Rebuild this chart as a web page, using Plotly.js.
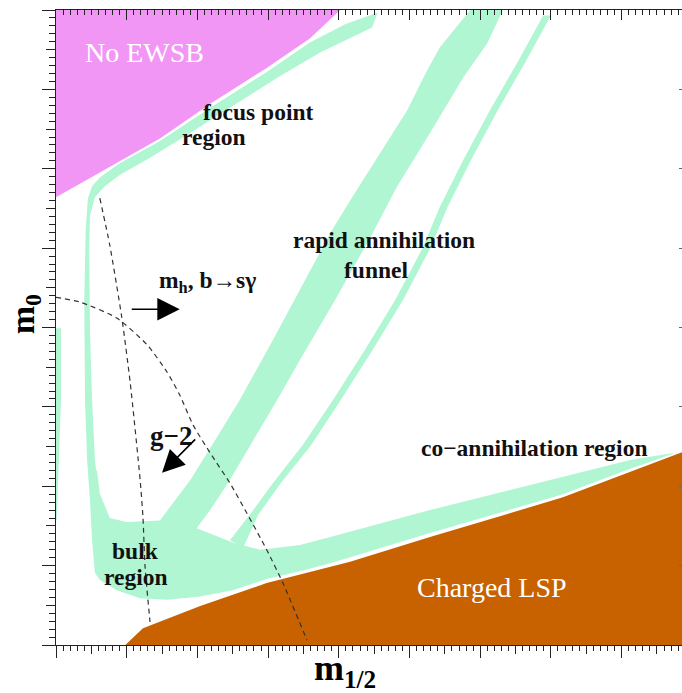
<!DOCTYPE html>
<html>
<head>
<meta charset="utf-8">
<script src="https://cdn.plot.ly/plotly-3.0.1.min.js"></script>
<style>
html,body{margin:0;padding:0;background:#fff;overflow:hidden}
#chart{width:682px;height:693px}
</style>
</head>
<body>
<div id="chart"></div>
<script>
// Region outlines (m_1/2 on x, m_0 on y, arbitrary units: 100 per major tick)
const pinkX = [0, 58, 147, 222, 298, 359, 402, 0];
const pinkY = [564, 593, 638, 684, 727, 764, 800, 800];

const orangeX = [98, 123, 204, 298, 416, 529, 717, 812, 886, 886];
const orangeY = [0, 21, 49, 78, 105, 136, 186, 218, 243, 0];

// focus point band + left vertical band
const focusX = [455,409,359,298,222,147,90,62,51,45,42,40,41,44,48, 62,55,51,48,47,48,55,69,90,133,175,246,317,373,416,447];
const focusY = [797,782,759,722,679,635,607,589,578,562,523,434,309,233,183, 183,233,309,397,498,541,564,578,592,614,637,677,717,746,764,778];

// bulk + co-annihilation band
const bulkX = [48,58,62,76,100,147,190,199,250,289,345,388,529,717,812,873, 873,812,717,529,388,345,298,250,204,157,119,86,62,55,51,48];
const bulkY = [220,220,191,160,155,157,154,147,129,120,126,136,170,212,233,242, 241,222,190,141,103,93,83,69,61,57,59,69,82,91,132,183];

// rapid annihilation funnel (wide branch)
const funnelX = [147,190,225,260,303,345,388,416,458,497,525,543,586,632,610,576,529,482,448,395,345,313,279,246,218,199,168];
const funnelY = [157,208,258,309,378,447,519,560,620,674,724,753,800,800,758,715,645,577,519,435,359,309,258,208,170,147,145];

// rapid annihilation funnel (narrow branch)
const funnel2X = [689,652,614,576,543,519,480,437,392,349,307,274,246,265,286,318,361,403,448,491,530,554,587,625,663,700];
const funnel2Y = [793,733,674,611,552,501,435,372,309,252,204,164,132,123,164,204,252,309,372,435,501,552,611,674,733,793];

// thin strip along the m_0 axis
const stripX = [0,7,7,4,1,0];
const stripY = [399,399,309,220,157,157];

// dashed constraint curves
const higgsX = [62,76,93,105,119,123,126,133];
const higgsY = [563,504,413,330,208,161,98,29];
const g2X = [0,34,86,129,157,175,194,218,246,270,298,321,355];
const g2Y = [438,432,412,378,344,315,277,242,204,166,120,78,6];

// labels
const darkLabels = ['<b>focus point</b>', '<b>region</b>', '<b>rapid annihilation</b>', '<b>funnel</b>',
  '<b>m<sub>h</sub>, b→sγ</b>', '<b>co−annihilation region</b>', '<b>bulk</b>', '<b>region</b>'];
const darkLabelX = [286, 224, 464, 453, 214, 676, 112, 113];
const darkLabelY = [671, 640, 510, 472, 457, 248, 118, 86];
const whiteLabels = ['No EWSB', 'Charged LSP'];
const whiteLabelX = [125, 617];
const whiteLabelY = [747, 73];

const PINK = '#f196f5', ORANGE = '#c86200', GREEN = '#b0f6d2';

function area(x, y, c) {
  return {type:'scatter', mode:'lines', x:x, y:y, fill:'toself', fillcolor:c,
          line:{width:0, color:c}, hoverinfo:'skip', showlegend:false};
}
function dashed(x, y) {
  return {type:'scatter', mode:'lines', x:x, y:y, line:{color:'#333', width:1.2, dash:'5px,4px', shape:'spline', smoothing:0.6},
          hoverinfo:'skip', showlegend:false};
}

const data = [
  area(pinkX, pinkY, PINK),
  area(orangeX, orangeY, ORANGE),
  area(focusX, focusY, GREEN),
  area(bulkX, bulkY, GREEN),
  area(funnelX, funnelY, GREEN),
  area(funnel2X, funnel2Y, GREEN),
  area(stripX, stripY, GREEN),
  dashed(higgsX, higgsY),
  dashed(g2X, g2Y),
  {type:'scatter', mode:'markers', x:[0], y:[0], xaxis:'x2', yaxis:'y2', marker:{opacity:0}, hoverinfo:'skip', showlegend:false},
  {type:'scatter', mode:'markers', x:[0], y:[0], xaxis:'x3', yaxis:'y3', marker:{opacity:0}, hoverinfo:'skip', showlegend:false}
];

const XR = [0, 885.4], YR = [0, 800];
const AX = '#222';
const base = {showgrid:false, zeroline:false, showticklabels:false, fixedrange:true, tickcolor:AX, tickwidth:1};

const annotations = [];
darkLabels.forEach((t, i) => annotations.push({
  text:t, x:darkLabelX[i], y:darkLabelY[i], xref:'x', yref:'y', showarrow:false,
  font:{family:'Liberation Serif, serif', size:23.5, color:'#111'}, borderpad:0
}));
whiteLabels.forEach((t, i) => annotations.push({
  text:t, x:whiteLabelX[i], y:whiteLabelY[i], xref:'x', yref:'y', showarrow:false,
  font:{family:'Liberation Serif, serif', size:28, color:'#ffffff'}
}));
annotations.push({text:'<b>g−2</b>', x:163, y:263, xref:'x', yref:'y', showarrow:false,
  font:{family:'Liberation Serif, serif', size:27, color:'#111'}});
// arrows
annotations.push({text:'', x:175, y:423, ax:105, ay:423, xref:'x', yref:'y', axref:'x', ayref:'y',
  showarrow:true, arrowhead:2, arrowsize:2.8, arrowwidth:1.6, arrowcolor:'#000'});
annotations.push({text:'', x:150, y:217, ax:199, ay:261, xref:'x', yref:'y', axref:'x', ayref:'y',
  showarrow:true, arrowhead:2, arrowsize:2.8, arrowwidth:1.6, arrowcolor:'#000'});
// axis titles
annotations.push({text:'<b>m<sub>1/2</sub></b>', xref:'paper', yref:'paper', x:0.4617, y:0, yanchor:'top', yshift:-1,
  showarrow:false, font:{family:'Liberation Serif, serif', size:36, color:'#000'}});
annotations.push({text:'<b>m<sub>0</sub></b>', xref:'paper', yref:'paper', x:-0.051, y:0.521, xshift:-22, textangle:-90,
  showarrow:false, font:{family:'Liberation Serif, serif', size:34, color:'#000'}});

const layout = {
  width:682, height:693,
  margin:{l:56, r:0, t:10, b:48},
  paper_bgcolor:'#fff', plot_bgcolor:'#fff',
  showlegend:false,
  xaxis:Object.assign({}, base, {range:XR, showline:true, linecolor:AX, linewidth:1.4,
    ticks:'outside', tick0:0, dtick:50, ticklen:8,
    minor:{ticks:'outside', dtick:10, ticklen:5, tickcolor:AX, tickwidth:1}}),
  xaxis2:Object.assign({}, base, {range:XR, overlaying:'x', anchor:'y', side:'bottom', showline:false,
    ticks:'outside', tick0:0, dtick:100, ticklen:12}),
  xaxis3:Object.assign({}, base, {range:XR, overlaying:'x', anchor:'y', side:'top', showline:true, linecolor:AX, linewidth:1.4,
    ticks:'inside', tick0:0, dtick:100, ticklen:10,
    minor:{ticks:'inside', dtick:10, ticklen:5, tickcolor:AX, tickwidth:1}}),
  yaxis:Object.assign({}, base, {range:YR, showline:true, linecolor:AX, linewidth:1.4,
    ticks:'outside', tick0:0, dtick:50, ticklen:9,
    minor:{ticks:'outside', dtick:10, ticklen:6, tickcolor:AX, tickwidth:1}}),
  yaxis2:Object.assign({}, base, {range:YR, overlaying:'y', anchor:'x', side:'left', showline:false,
    ticks:'outside', tick0:0, dtick:100, ticklen:13}),
  yaxis3:Object.assign({}, base, {range:YR, overlaying:'y', anchor:'x', side:'right', showline:false,
    ticks:'inside', tick0:0, dtick:100, ticklen:3, tickcolor:'#666'}),
  annotations:annotations
};

Plotly.newPlot('chart', data, layout, {displayModeBar:false, staticPlot:true});
</script>
</body>
</html>
